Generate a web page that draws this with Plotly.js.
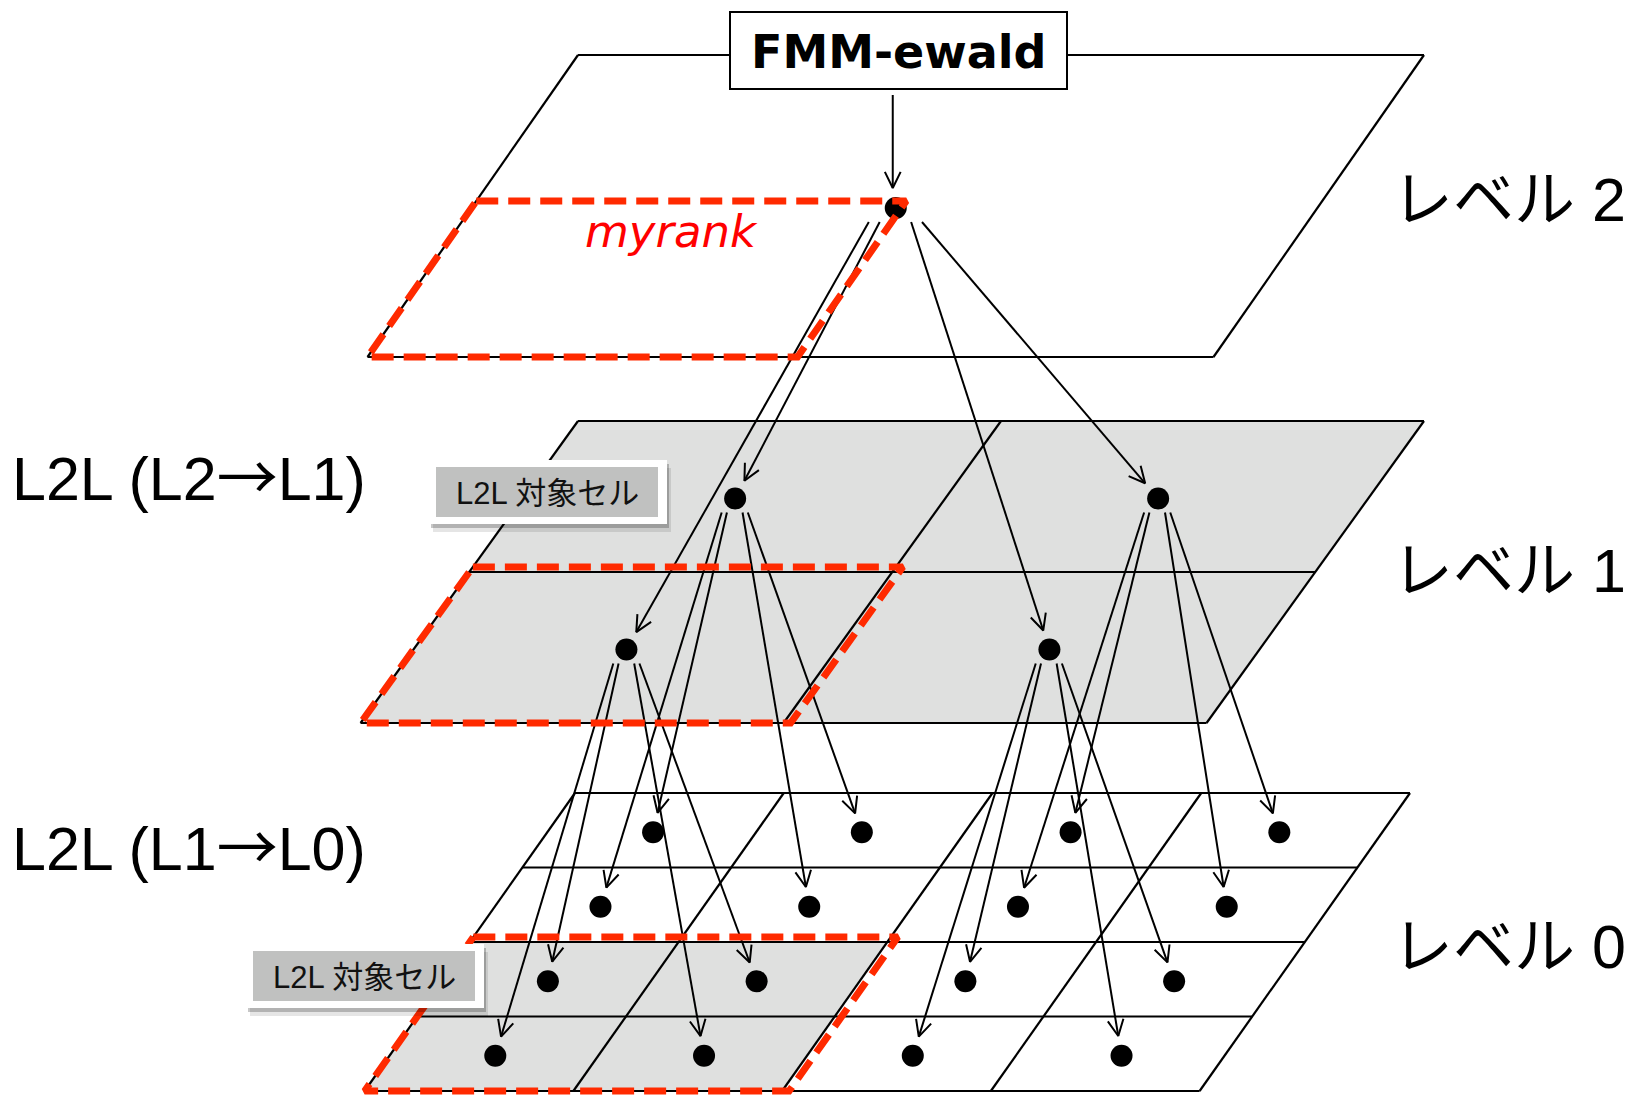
<!DOCTYPE html>
<html>
<head>
<meta charset="utf-8">
<script src="https://cdn.plot.ly/plotly-3.0.1.min.js"></script>
<style>
  html, body { margin: 0; padding: 0; background: #ffffff; }
  #chart { width: 1630px; height: 1095px; }
</style>
</head>
<body>
<div id="chart"></div>
<script>
// ---------------- data ----------------
const levelNames   = ['レベル 2', 'レベル 1', 'レベル 0'];   // top to bottom
const levelCells   = [1, 2, 4];                             // cells per side
const levelShading = ['none', 'all', 'target'];             // grey area of each level
const targetU      = [0, 0.5];                              // myrank block (fraction of width)
const targetV      = [0.5, 1];                              // myrank block (fraction of depth)
const stepNames    = ['L2L (L2→L1)', 'L2L (L1→L0)'];
const boxTitle     = 'FMM-ewald';
const rankLabel    = 'myrank';
const targetLabel  = 'L2L 対象セル';

// ---------------- geometry / style ----------------
const G = {
  left:  [578, 578, 575],
  top:   [55, 421, 793],
  width: [846, 846, 835],
  depth: [302, 302, 298],
  shear: [0.697, 0.72, 0.706]
};
const GREY = '#dfe0df';
const RED = '#ff2a00';
const W = 1630, H = 1095;

function P(l, u, v) {
  return [G.left[l] + u * G.width[l] - v * G.depth[l] * G.shear[l], G.top[l] + v * G.depth[l]];
}
function polyXY(pts) {
  const xs = pts.map(p => p[0]), ys = pts.map(p => p[1]);
  xs.push(pts[0][0]); ys.push(pts[0][1]);
  return [xs, ys];
}
function cellCenter(l, r, c) {
  const n = levelCells[l];
  const p = P(l, (c + 0.5) / n, (r + 0.5) / n);
  return [p[0], p[1] + 2];
}

const traces = [];

// fills
levelCells.forEach((n, l) => {
  const [xs, ys] = polyXY([P(l,0,0), P(l,1,0), P(l,1,1), P(l,0,1)]);
  traces.push({x: xs, y: ys, mode: 'lines', fill: 'toself',
    fillcolor: levelShading[l] === 'all' ? GREY : '#ffffff',
    line: {width: 0, color: 'rgba(0,0,0,0)'}, hoverinfo: 'skip', showlegend: false});
  if (levelShading[l] === 'target') {
    const [tx, ty] = polyXY([P(l,targetU[0],targetV[0]), P(l,targetU[1],targetV[0]),
                            P(l,targetU[1],targetV[1]), P(l,targetU[0],targetV[1])]);
    traces.push({x: tx, y: ty, mode: 'lines', fill: 'toself', fillcolor: GREY,
      line: {width: 0, color: 'rgba(0,0,0,0)'}, hoverinfo: 'skip', showlegend: false});
  }
});

// grid lines
{
  const gx = [], gy = [];
  levelCells.forEach((n, l) => {
    for (let i = 0; i <= n; i++) {
      const a = P(l, 0, i / n), b = P(l, 1, i / n);
      gx.push(a[0], b[0], null); gy.push(a[1], b[1], null);
      const c = P(l, i / n, 0), d = P(l, i / n, 1);
      gx.push(c[0], d[0], null); gy.push(c[1], d[1], null);
    }
  });
  traces.push({x: gx, y: gy, mode: 'lines', line: {color: '#000', width: 2.2},
    hoverinfo: 'skip', showlegend: false});
}

// arrows
const ax = [], ay = [];
function arrow(S, T) {
  const dx = T[0] - S[0], dy = T[1] - S[1], L = Math.hypot(dx, dy);
  const ux = dx / L, uy = dy / L, len = 18, ang = 26 * Math.PI / 180;
  const c = Math.cos(ang), s = Math.sin(ang);
  const a1 = [T[0] - len * (ux * c - uy * s), T[1] - len * (ux * s + uy * c)];
  const a2 = [T[0] - len * (ux * c + uy * s), T[1] - len * (-ux * s + uy * c)];
  ax.push(S[0], T[0], null, a1[0], T[0], a2[0], null);
  ay.push(S[1], T[1], null, a1[1], T[1], a2[1], null);
}
function link(Pp, C) {
  const S = [Pp[0] + 0.1 * (C[0] - Pp[0]), Pp[1] + 14];
  const dx = C[0] - S[0], dy = C[1] - S[1], L = Math.hypot(dx, dy);
  const T = [C[0] - dx / L * 20, C[1] - dy / L * 20];
  arrow(S, T);
}
for (let l = 0; l < levelCells.length - 1; l++) {
  const n = levelCells[l];
  for (let r = 0; r < n; r++) for (let c = 0; c < n; c++) {
    const Pp = cellCenter(l, r, c);
    for (let i = 0; i < 2; i++) for (let j = 0; j < 2; j++) {
      link(Pp, cellCenter(l + 1, 2 * r + i, 2 * c + j));
    }
  }
}
// box -> top cell
const topDot = cellCenter(0, 0, 0);
const BOX = {x0: 730, x1: 1067, y0: 12, y1: 89};
arrow([topDot[0] - 3, BOX.y1 + 6], [topDot[0] - 3, topDot[1] - 20]);
traces.push({x: ax, y: ay, mode: 'lines', line: {color: '#000', width: 2},
  hoverinfo: 'skip', showlegend: false});

// dots
{
  const dx = [], dy = [];
  levelCells.forEach((n, l) => {
    for (let r = 0; r < n; r++) for (let c = 0; c < n; c++) {
      const p = cellCenter(l, r, c); dx.push(p[0]); dy.push(p[1]);
    }
  });
  traces.push({x: dx, y: dy, mode: 'markers', marker: {size: 22, color: '#000'},
    hoverinfo: 'skip', showlegend: false});
}

// red dashed target outlines
levelCells.forEach((n, l) => {
  const padT = 5, padR = 7, sh = G.shear[l];
  const tl = P(l, targetU[0], targetV[0]), tr = P(l, targetU[1], targetV[0]);
  const br = P(l, targetU[1], targetV[1]), bl = P(l, targetU[0], targetV[1]);
  const pts = [[tl[0] + padT * sh, tl[1] - padT], [tr[0] + padR + padT * sh, tr[1] - padT],
               [br[0] + padR, br[1]], bl];
  const [xs, ys] = polyXY(pts);
  traces.push({x: xs, y: ys, mode: 'lines', line: {color: RED, width: 7, dash: '22px,10px'},
    hoverinfo: 'skip', showlegend: false});
});

// ---------------- boxes & labels ----------------
const shapes = [];
const annotations = [];
const LBL = [{x0: 428, x1: 667, y0: 460, y1: 524}, {x0: 245, x1: 484, y0: 944, y1: 1008}];
LBL.forEach(b => {
  shapes.push({type: 'rect', xref: 'x', yref: 'y', layer: 'above', x0: b.x0 + 5, x1: b.x1 + 4, y0: b.y0 + 8, y1: b.y1 + 8,
    fillcolor: 'rgba(0,0,0,0.10)', line: {width: 0}});
  shapes.push({type: 'rect', xref: 'x', yref: 'y', layer: 'above', x0: b.x0 + 3, x1: b.x1 + 2, y0: b.y0 + 4, y1: b.y1 + 4,
    fillcolor: 'rgba(0,0,0,0.22)', line: {width: 0}});
  shapes.push({type: 'rect', xref: 'x', yref: 'y', layer: 'above', x0: b.x0, x1: b.x1, y0: b.y0, y1: b.y1,
    fillcolor: '#ffffff', line: {width: 0}});
  shapes.push({type: 'rect', xref: 'x', yref: 'y', layer: 'above', x0: b.x0 + 8, x1: b.x1 - 9, y0: b.y0 + 7, y1: b.y1 - 7,
    fillcolor: '#c0c1c0', line: {width: 0}});
  annotations.push({text: targetLabel, x: (b.x0 + b.x1) / 2, y: (b.y0 + b.y1) / 2 + 1, xref: 'x', yref: 'y',
    showarrow: false, xanchor: 'center', yanchor: 'middle',
    font: {family: 'Liberation Sans, Noto Sans CJK JP', size: 31, color: '#111'}});
});

shapes.push({type: 'rect', xref: 'x', yref: 'y', layer: 'above', x0: BOX.x0, x1: BOX.x1, y0: BOX.y0, y1: BOX.y1,
  fillcolor: '#ffffff', line: {color: '#000', width: 2}});
annotations.push({text: '<b>' + boxTitle + '</b>', x: (BOX.x0 + BOX.x1) / 2, y: (BOX.y0 + BOX.y1) / 2 + 1,
  xref: 'x', yref: 'y', showarrow: false, xanchor: 'center', yanchor: 'middle',
  font: {family: 'DejaVu Sans', size: 46, color: '#000'}});

annotations.push({text: '<i>' + rankLabel + '</i>', x: 671, y: 231, xref: 'x', yref: 'y', showarrow: false,
  xanchor: 'center', yanchor: 'middle', font: {family: 'DejaVu Sans', size: 45, color: '#ff0000'}});

const levelLabelY = [200, 571, 947];
levelNames.forEach((t, l) => annotations.push({text: t, x: 1390, y: levelLabelY[l], xref: 'x', yref: 'y',
  showarrow: false, xanchor: 'left', yanchor: 'middle',
  font: {family: 'Liberation Sans, Noto Sans CJK JP', size: 61, color: '#000'}}));

const stepLabelY = [473, 843];
stepNames.forEach((t, i) => annotations.push({
  text: t.replace('→', "<span style=\"font-family:'Noto Sans CJK JP'\">→</span>"),
  x: 10, y: stepLabelY[i], xref: 'x', yref: 'y',
  showarrow: false, xanchor: 'left', yanchor: 'middle',
  font: {family: 'Liberation Sans, Noto Sans CJK JP', size: 61, color: '#000'}}));

const layout = {
  width: W, height: H,
  margin: {l: 0, r: 0, t: 0, b: 0, pad: 0},
  paper_bgcolor: '#ffffff', plot_bgcolor: '#ffffff',
  xaxis: {range: [0, W], visible: false, fixedrange: true},
  yaxis: {range: [H, 0], visible: false, fixedrange: true},
  shapes: shapes, annotations: annotations, showlegend: false
};
Plotly.newPlot('chart', traces, layout, {displayModeBar: false, staticPlot: true});
</script>
</body>
</html>
